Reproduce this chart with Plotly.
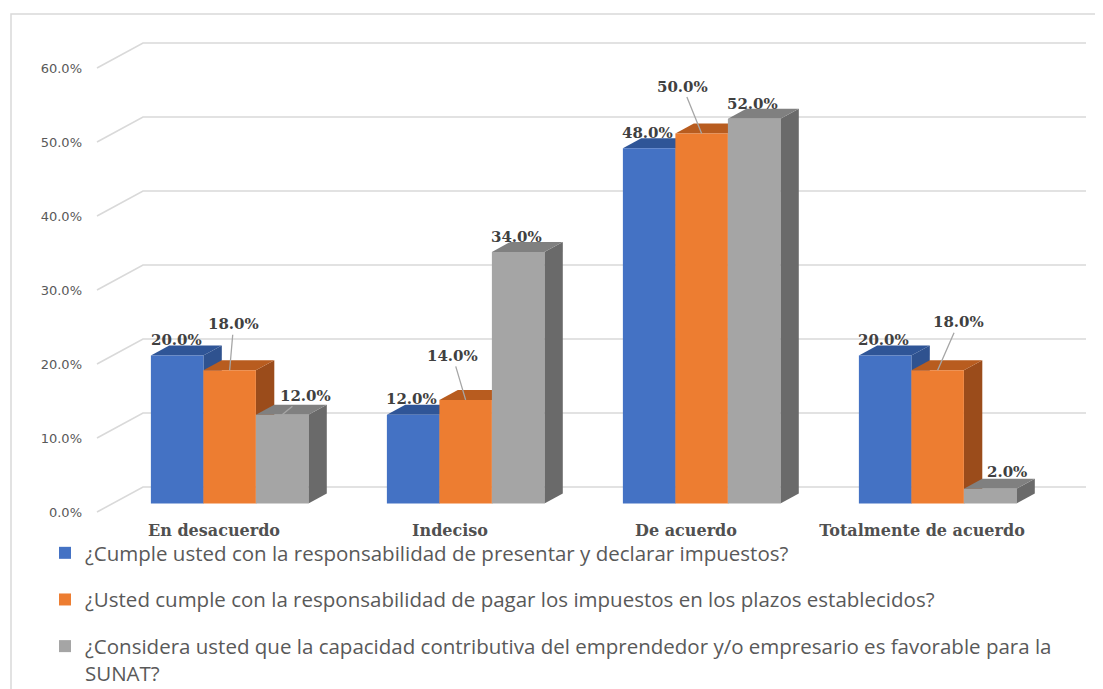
import plotly.graph_objects as go

# ---------------- data ----------------
categories = ["En desacuerdo", "Indeciso", "De acuerdo", "Totalmente de acuerdo"]
series_names = [
    "¿Cumple usted con la responsabilidad de presentar y declarar impuestos?",
    "¿Usted cumple con la responsabilidad de pagar los impuestos en los plazos establecidos?",
    "¿Considera usted que la capacidad contributiva del emprendedor y/o empresario es favorable para la<br>SUNAT?",
]
presentar_declarar = [20.0, 12.0, 48.0, 20.0]
pagar_plazos = [18.0, 14.0, 50.0, 18.0]
capacidad_contributiva = [12.0, 34.0, 52.0, 2.0]
y_tick_values = [0, 10, 20, 30, 40, 50, 60]
y_tick_labels = ["0.0%", "10.0%", "20.0%", "30.0%", "40.0%", "50.0%", "60.0%"]

series_values = [presentar_declarar, pagar_plazos, capacidad_contributiva]

# ---------------- style ----------------
front_colors = ["#4472C4", "#ED7D31", "#A5A5A5"]
top_colors = ["#2F5597", "#B85C1F", "#808080"]
side_colors = ["#2F528F", "#9B4C1B", "#6A6A6A"]
grid_color = "#D9D9D9"
label_color = "#404040"

# data-label offsets in pixels from the bar's front-top centre: (dx, dy, leader line)
offsets_by_series = [
    [(-1, -16, False), (-2, -16, False), (-2, -15, False), (-2, -16, False)],
    [(4, -46, True), (-13, -44, True), (-19, -47, True), (21, -48, True)],
    [(23, -19, True), (-2, -15, False), (-2, -15, False), (17, -17, False)],
]

# ---------------- geometry (page pixels, page has an 8px body margin) ----------------
PAGE_OFF = 8
FIG_W, FIG_H = 1103, 689
PLOT_L, PLOT_R, PLOT_T, PLOT_B = 88 - PAGE_OFF, 1095 - PAGE_OFF, 22 - PAGE_OFF, 519 - PAGE_OFF
X0_PX, CAT_PX = 214.0 - PAGE_OFF, 236.0
Y0_PX, PCT_PX = 512.0 - PAGE_OFF, 7.4
GRID_X_START_PX, GRID_X_END_PX = 97.0 - PAGE_OFF, 1086.0 - PAGE_OFF
DEPTH_X_PX, DEPTH_Y_PX = 46.0, 25.0
BAR_W_PX = 52.5
F0, F1 = 0.34, 0.74

x_range = [(PLOT_L - X0_PX) / CAT_PX, (PLOT_R - X0_PX) / CAT_PX]
y_range = [(Y0_PX - PLOT_B) / PCT_PX, (Y0_PX - PLOT_T) / PCT_PX]
DX = DEPTH_X_PX / CAT_PX
DY = DEPTH_Y_PX / PCT_PX
BW = BAR_W_PX / CAT_PX
gx0 = (GRID_X_START_PX - X0_PX) / CAT_PX
gx1 = (GRID_X_END_PX - X0_PX) / CAT_PX
base0 = F0 * DY
ddx = (F1 - F0) * DX
ddy = (F1 - F0) * DY


def px_x(px):
    return (px - PAGE_OFF - PLOT_L) / (PLOT_R - PLOT_L)


def px_y(py):
    return (PLOT_B - (py - PAGE_OFF)) / (PLOT_B - PLOT_T)


fig = go.Figure()

# gridlines (back wall + left side wall)
gxs, gys = [], []
for v in y_tick_values:
    gxs += [gx0, gx0 + DX, gx1, None]
    gys += [v, v + DY, v + DY, None]
fig.add_trace(go.Scatter(x=gxs, y=gys, mode="lines", line=dict(color=grid_color, width=1.6),
                         hoverinfo="skip", showlegend=False))

# side and top faces (drawn beneath the front faces)
for i in range(len(categories)):
    for k, vals in enumerate(series_values):
        v = vals[i]
        xl = i + F0 * DX + (k - 1.5) * BW
        xr = xl + BW
        yb = base0
        yt = base0 + v
        fig.add_trace(go.Scatter(
            x=[xr, xr, xr + ddx, xr + ddx, xr], y=[yb, yt, yt + ddy, yb + ddy, yb],
            mode="lines", fill="toself", fillcolor=side_colors[k],
            line=dict(width=0, color=side_colors[k]), hoverinfo="skip", showlegend=False))
        fig.add_trace(go.Scatter(
            x=[xl, xr, xr + ddx, xl + ddx, xl], y=[yt, yt, yt + ddy, yt + ddy, yt],
            mode="lines", fill="toself", fillcolor=top_colors[k],
            line=dict(width=0, color=top_colors[k]), hoverinfo="skip", showlegend=False))

# front faces as real bars on an overlaid axis pair
for k, vals in enumerate(series_values):
    xs = [i + F0 * DX + (k - 1) * BW for i in range(len(categories))]
    fig.add_trace(go.Bar(
        x=xs, y=vals, base=[base0] * len(vals), width=BW,
        marker=dict(color=front_colors[k], line=dict(width=0)),
        name=series_names[k], legendgroup=f"s{k}",
        xaxis="x2", yaxis="y2", hovertemplate="%{y:.1f}%<extra></extra>"))

# data labels
annotations = []
for k, vals in enumerate(series_values):
    for i, v in enumerate(vals):
        ax, ay, leader = offsets_by_series[k][i]
        xc = i + F0 * DX + (k - 1) * BW
        yc = base0 + v
        common = dict(x=xc, y=yc, xref="x", yref="y", text=f"{v:.1f}%",
                      font=dict(family="DejaVu Serif", size=15, color=label_color, weight="bold"))
        if leader:
            annotations.append(dict(**common, showarrow=True, ax=ax, ay=ay, axref="pixel", ayref="pixel",
                                    arrowhead=0, arrowwidth=1.3, arrowcolor="#A6A6A6", standoff=0))
        else:
            annotations.append(dict(**common, showarrow=False, xshift=ax, yshift=-ay))

fig.update_layout(
    width=FIG_W, height=FIG_H,
    margin=dict(l=PLOT_L, r=FIG_W - PLOT_R, t=PLOT_T, b=FIG_H - PLOT_B, autoexpand=False),
    paper_bgcolor="white", plot_bgcolor="white",
    barmode="overlay",
    xaxis=dict(range=x_range, tickmode="array", tickvals=list(range(len(categories))),
               ticktext=categories, showgrid=False, zeroline=False, showline=False, ticks="",
               tickfont=dict(family="DejaVu Serif", size=16, color="#505050", weight="bold"),
               fixedrange=True),
    yaxis=dict(range=y_range, tickmode="array", tickvals=y_tick_values, ticktext=y_tick_labels,
               showgrid=False, zeroline=False, showline=False, ticks="", ticklabelstandoff=5,
               tickfont=dict(family="DejaVu Sans", size=13, color="#595959"), fixedrange=True),
    xaxis2=dict(range=x_range, overlaying="x", visible=False, fixedrange=True),
    yaxis2=dict(range=y_range, overlaying="y", visible=False, fixedrange=True),
    showlegend=True,
    legend=dict(x=px_x(45), y=px_y(533), xanchor="left", yanchor="top",
                orientation="v", traceorder="grouped", tracegroupgap=17, valign="top",
                font=dict(family="Open Sans", size=20.5, color="#595959"),
                bgcolor="rgba(0,0,0,0)"),
    annotations=annotations,
    shapes=[dict(type="rect", xref="paper", yref="paper",
                 x0=px_x(11), x1=px_x(1120), y0=px_y(14), y1=px_y(710),
                 line=dict(color="#D9D9D9", width=1.5), layer="below")],
)

fig.write_html("out.html")
